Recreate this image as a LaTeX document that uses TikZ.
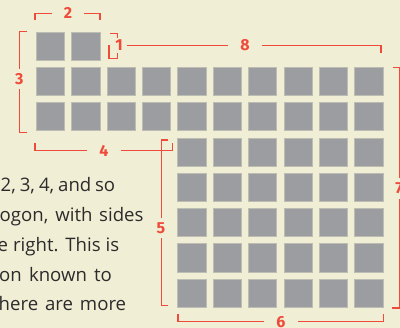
\documentclass[tikz,border=0pt]{standalone}
\usepackage{fontspec}
\newfontfamily\bodyfont{Open Sans}
\newfontfamily\labelfont{Fira Sans}
\definecolor{paper}{HTML}{F1EED6}
\definecolor{tilegray}{HTML}{9C9DA1}
\definecolor{tileedge}{HTML}{BDBDB4}
\definecolor{dimred}{HTML}{EF4A3A}
\definecolor{ink}{HTML}{2B2B2B}

\begin{document}
\begin{tikzpicture}[x=1pt, y=-1pt,
  tile/.style={fill=tilegray, draw=tileedge, line width=0.8pt, minimum size=28.2pt, inner sep=0pt, anchor=north west},
  dim/.style={draw=dimred, line width=1.2pt},
  hlab/.style={fill=paper, text=dimred, inner xsep=12pt, inner ysep=1pt, font=\labelfont\bfseries\fontsize{16}{16}\selectfont},
  vlab/.style={fill=paper, text=dimred, inner xsep=1pt, inner ysep=4.5pt, font=\labelfont\bfseries\fontsize{16}{16}\selectfont},
  line/.style={anchor=base west, inner sep=0pt, text=ink, font=\bodyfont\fontsize{18.6}{18.6}\selectfont}]
  \useasboundingbox (0,0) rectangle (400,328);
  \clip (0,0) rectangle (400,328);
  \fill[paper] (0,0) rectangle (400,328);

  \foreach \c in {0,1}
    \node[tile] (t0\c) at ({36+35.37*\c},31.7) {};
  \foreach \r in {1,2}
    \foreach \c in {0,...,9}
      \node[tile] (t\r\c) at ({36+35.37*\c},{31.7+35.3*\r}) {};
  \foreach \r in {3,...,7}
    \foreach \c in {4,...,9}
      \node[tile] (t\r\c) at ({36+35.37*\c},{31.7+35.3*\r}) {};

  \draw[dim] (35,20) -- (35,13.3) -- (100,13.3) -- (100,20);
  \node[hlab] (two) at (68,13) {2};
  \draw[dim] (26.7,31.7) -- (19.3,31.7) -- (19.3,132.7) -- (26.7,132.7);
  \node[vlab] (three) at (19.3,79) {3};
  \draw[dim] (110,33.3) -- (117.5,33.3) -- (117.5,38);
  \draw[dim] (109,45) -- (109,58.5) -- (117.5,58.5) -- (117.5,53);
  \node[text=dimred, inner sep=0pt, font=\labelfont\bfseries\fontsize{16}{16}\selectfont] (one) at (119,45.5) {1};
  \draw[dim] (126.7,45.7) -- (381,45.7) -- (381,53.3);
  \node[hlab] (eight) at (245,45.2) {8};
  \draw[dim] (35,143.3) -- (35,150.5) -- (172.5,150.5) -- (172.5,143.3);
  \node[hlab] (four) at (104,151) {4};
  \draw[dim] (168.3,140) -- (161.5,140) -- (161.5,305.7) -- (168.3,305.7);
  \node[vlab] (five) at (161,228) {5};
  \draw[dim] (178,314) -- (178,321.7) -- (383.3,321.7) -- (383.3,314);
  \node[hlab] (six) at (281,321.7) {6};
  \draw[dim] (392.7,67.5) -- (399.3,67.5) -- (399.3,308) -- (392,308);
  \node[vlab] (seven) at (399,188.5) {7};

  \node[line] (l1) at (0.5,192) {\makebox[114.5pt][s]{2, 3, 4, and so}};
  \node[line] (l2) at (-0.5,221.8) {\makebox[143.8pt][s]{ogon, with sides}};
  \node[line] (l3) at (-2.5,251.5) {\makebox[121.5pt][s]{e right. This is}};
  \node[line] (l4) at (-1,281.3) {\makebox[112.7pt][s]{on known to}};
  \node[line] (l5) at (-1.5,311) {\makebox[127.5pt][s]{here are more}};
\end{tikzpicture}
\end{document}
